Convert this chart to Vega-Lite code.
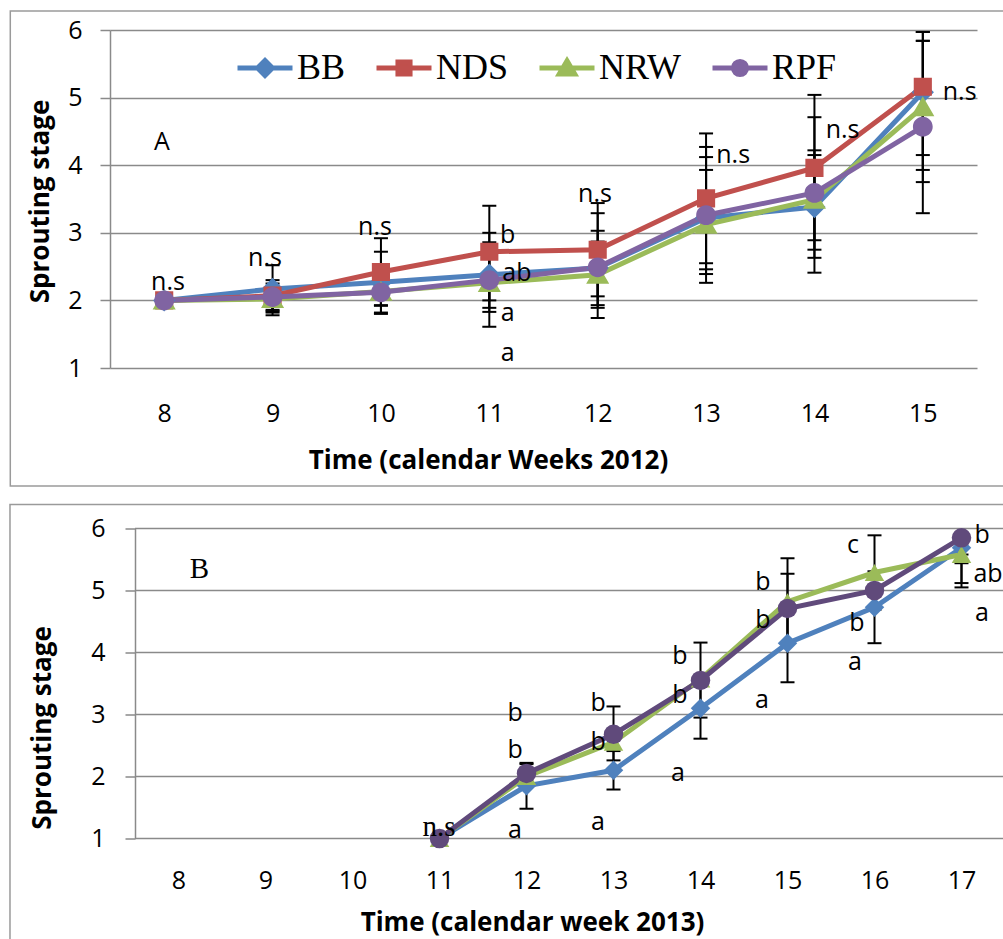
{
  "$schema": "https://vega.github.io/schema/vega-lite/v6.json",
  "padding": {"left": 9, "top": 10, "right": 0, "bottom": 0},
  "autosize": {"type": "pad"},
  "background": "white",
  "config": {
    "view": {"stroke": null},
    "font": "Open Sans",
    "axis": {"labelColor": "black", "titleColor": "black", "labelFont": "Open Sans", "titleFont": "Open Sans"}
  },
  "datasets": {
    "meanA": [
      {"series": "BB", "week": 8, "stage": 2.0}, {"series": "BB", "week": 9, "stage": 2.17}, {"series": "BB", "week": 10, "stage": 2.27}, {"series": "BB", "week": 11, "stage": 2.38},
      {"series": "BB", "week": 12, "stage": 2.48}, {"series": "BB", "week": 13, "stage": 3.22}, {"series": "BB", "week": 14, "stage": 3.38}, {"series": "BB", "week": 15, "stage": 5.08},
      {"series": "NDS", "week": 8, "stage": 2.0}, {"series": "NDS", "week": 9, "stage": 2.07}, {"series": "NDS", "week": 10, "stage": 2.42}, {"series": "NDS", "week": 11, "stage": 2.72},
      {"series": "NDS", "week": 12, "stage": 2.75}, {"series": "NDS", "week": 13, "stage": 3.51}, {"series": "NDS", "week": 14, "stage": 3.96}, {"series": "NDS", "week": 15, "stage": 5.16},
      {"series": "NRW", "week": 8, "stage": 2.0}, {"series": "NRW", "week": 9, "stage": 2.02}, {"series": "NRW", "week": 10, "stage": 2.13}, {"series": "NRW", "week": 11, "stage": 2.26},
      {"series": "NRW", "week": 12, "stage": 2.38}, {"series": "NRW", "week": 13, "stage": 3.12}, {"series": "NRW", "week": 14, "stage": 3.49}, {"series": "NRW", "week": 15, "stage": 4.86},
      {"series": "RPF", "week": 8, "stage": 2.0}, {"series": "RPF", "week": 9, "stage": 2.05}, {"series": "RPF", "week": 10, "stage": 2.12}, {"series": "RPF", "week": 11, "stage": 2.30},
      {"series": "RPF", "week": 12, "stage": 2.49}, {"series": "RPF", "week": 13, "stage": 3.26}, {"series": "RPF", "week": 14, "stage": 3.59}, {"series": "RPF", "week": 15, "stage": 4.57}
    ],
    "errA": [
      {"series": "BB", "week": 9, "lo": 1.82, "hi": 2.52}, {"series": "BB", "week": 10, "lo": 1.82, "hi": 2.72}, {"series": "BB", "week": 11, "lo": 1.89, "hi": 2.86},
      {"series": "BB", "week": 12, "lo": 1.93, "hi": 3.03}, {"series": "BB", "week": 13, "lo": 2.26, "hi": 4.12}, {"series": "BB", "week": 14, "lo": 2.63, "hi": 4.15}, {"series": "BB", "week": 15, "lo": 4.15, "hi": 5.84},
      {"series": "NDS", "week": 9, "lo": 1.86, "hi": 2.30}, {"series": "NDS", "week": 10, "lo": 1.92, "hi": 2.92}, {"series": "NDS", "week": 11, "lo": 2.0, "hi": 3.40},
      {"series": "NDS", "week": 12, "lo": 2.06, "hi": 3.44}, {"series": "NDS", "week": 13, "lo": 2.55, "hi": 4.47}, {"series": "NDS", "week": 14, "lo": 2.89, "hi": 5.04}, {"series": "NDS", "week": 15, "lo": 3.93, "hi": 5.97},
      {"series": "NRW", "week": 9, "lo": 1.84, "hi": 2.20}, {"series": "NRW", "week": 10, "lo": 1.80, "hi": 2.45}, {"series": "NRW", "week": 11, "lo": 1.83, "hi": 2.70},
      {"series": "NRW", "week": 12, "lo": 1.89, "hi": 2.87}, {"series": "NRW", "week": 13, "lo": 2.46, "hi": 3.93}, {"series": "NRW", "week": 14, "lo": 2.75, "hi": 4.22}, {"series": "NRW", "week": 15, "lo": 3.75, "hi": 5.97},
      {"series": "RPF", "week": 9, "lo": 1.78, "hi": 2.25}, {"series": "RPF", "week": 10, "lo": 1.93, "hi": 2.45}, {"series": "RPF", "week": 11, "lo": 1.61, "hi": 3.0},
      {"series": "RPF", "week": 12, "lo": 1.74, "hi": 3.29}, {"series": "RPF", "week": 13, "lo": 2.39, "hi": 4.27}, {"series": "RPF", "week": 14, "lo": 2.41, "hi": 4.71}, {"series": "RPF", "week": 15, "lo": 3.29, "hi": 5.84}
    ],
    "notesA": [
      {"week": 8.035, "stage": 2.27, "note": "n.s"}, {"week": 8.93, "stage": 2.63, "note": "n.s"}, {"week": 9.945, "stage": 3.09, "note": "n.s"},
      {"week": 11.17, "stage": 2.97, "note": "b"}, {"week": 11.255, "stage": 2.41, "note": "ab"}, {"week": 11.17, "stage": 1.81, "note": "a"}, {"week": 11.17, "stage": 1.22, "note": "a"},
      {"week": 11.975, "stage": 3.57, "note": "n.s"}, {"week": 13.25, "stage": 4.15, "note": "n.s"}, {"week": 14.26, "stage": 4.52, "note": "n.s"}, {"week": 15.34, "stage": 5.08, "note": "n.s"},
      {"week": 7.98, "stage": 4.34, "note": "A"}
    ],
    "meanB": [
      {"series": "BB", "week": 11, "stage": 1.0}, {"series": "BB", "week": 12, "stage": 1.85}, {"series": "BB", "week": 13, "stage": 2.10}, {"series": "BB", "week": 14, "stage": 3.10},
      {"series": "BB", "week": 15, "stage": 4.15}, {"series": "BB", "week": 16, "stage": 4.73}, {"series": "BB", "week": 17, "stage": 5.69},
      {"series": "NRW", "week": 11, "stage": 1.0}, {"series": "NRW", "week": 12, "stage": 2.0}, {"series": "NRW", "week": 13, "stage": 2.55}, {"series": "NRW", "week": 14, "stage": 3.57},
      {"series": "NRW", "week": 15, "stage": 4.82}, {"series": "NRW", "week": 16, "stage": 5.29}, {"series": "NRW", "week": 17, "stage": 5.58},
      {"series": "RPF", "week": 11, "stage": 1.0}, {"series": "RPF", "week": 12, "stage": 2.05}, {"series": "RPF", "week": 13, "stage": 2.68}, {"series": "RPF", "week": 14, "stage": 3.55},
      {"series": "RPF", "week": 15, "stage": 4.71}, {"series": "RPF", "week": 16, "stage": 5.0}, {"series": "RPF", "week": 17, "stage": 5.85}
    ],
    "errB": [
      {"series": "BB", "week": 12, "lo": 1.48, "hi": 2.22}, {"series": "BB", "week": 13, "lo": 1.79, "hi": 2.41}, {"series": "BB", "week": 14, "lo": 2.61, "hi": 3.59},
      {"series": "BB", "week": 15, "lo": 3.52, "hi": 4.78}, {"series": "BB", "week": 16, "lo": 4.15, "hi": 5.31}, {"series": "BB", "week": 17, "lo": 5.12, "hi": 5.69},
      {"series": "NRW", "week": 15, "lo": 4.16, "hi": 5.52}, {"series": "NRW", "week": 16, "lo": 4.69, "hi": 5.89}, {"series": "NRW", "week": 17, "lo": 5.05, "hi": 5.58},
      {"series": "RPF", "week": 12, "lo": 2.05, "hi": 2.20}, {"series": "RPF", "week": 13, "lo": 2.26, "hi": 3.13}, {"series": "RPF", "week": 14, "lo": 2.95, "hi": 4.16},
      {"series": "RPF", "week": 15, "lo": 4.15, "hi": 5.27}, {"series": "RPF", "week": 17, "lo": 5.44, "hi": 5.85}
    ],
    "notesB": [
      {"week": 11.868, "stage": 3.02, "note": "b"}, {"week": 11.868, "stage": 2.42, "note": "b"}, {"week": 11.868, "stage": 1.13, "note": "a"},
      {"week": 12.822, "stage": 3.19, "note": "b"}, {"week": 12.822, "stage": 2.55, "note": "b"}, {"week": 12.822, "stage": 1.27, "note": "a"},
      {"week": 13.764, "stage": 3.95, "note": "b"}, {"week": 13.764, "stage": 3.31, "note": "b"}, {"week": 13.741, "stage": 2.05, "note": "a"},
      {"week": 14.718, "stage": 5.13, "note": "b"}, {"week": 14.718, "stage": 4.52, "note": "b"}, {"week": 14.706, "stage": 3.24, "note": "a"},
      {"week": 15.753, "stage": 5.73, "note": "c"}, {"week": 15.799, "stage": 4.47, "note": "b"}, {"week": 15.776, "stage": 3.84, "note": "a"},
      {"week": 17.236, "stage": 5.89, "note": "b"}, {"week": 17.305, "stage": 5.26, "note": "ab"}, {"week": 17.236, "stage": 4.63, "note": "a"}
    ],
    "serifB": [
      {"week": 10.994, "stage": 1.18, "note": "n.s"},
      {"week": 8.24, "stage": 5.35, "note": "B"}
    ],
    "gridB": [
      {"tick": 1}, {"tick": 2}, {"tick": 3}, {"tick": 4}, {"tick": 5}, {"tick": 6}
    ]
  },
  "vconcat": [
    {
      "width": 867,
      "height": 338,
      "layer": [
        {
          "data": {"values": [{}]},
          "mark": {"type": "rect", "filled": false, "stroke": "#9a9a9a", "strokeWidth": 1.5},
          "encoding": {
            "x": {"datum": 6.58, "type": "quantitative"},
            "x2": {"datum": 16.0},
            "y": {"datum": 6.281, "type": "quantitative"},
            "y2": {"datum": -0.746}
          }
        },
        {
          "data": {"name": "errA"},
          "mark": {"type": "rule", "color": "black", "strokeWidth": 2},
          "encoding": {
            "x": {"field": "week", "type": "quantitative"},
            "y": {"field": "lo", "type": "quantitative"},
            "y2": {"field": "hi"}
          }
        },
        {
          "data": {"name": "errA"},
          "mark": {"type": "tick", "orient": "horizontal", "color": "black", "size": 14, "thickness": 2, "opacity": 1},
          "encoding": {
            "x": {"field": "week", "type": "quantitative"},
            "y": {"field": "lo", "type": "quantitative"}
          }
        },
        {
          "data": {"name": "errA"},
          "mark": {"type": "tick", "orient": "horizontal", "color": "black", "size": 14, "thickness": 2, "opacity": 1},
          "encoding": {
            "x": {"field": "week", "type": "quantitative"},
            "y": {"field": "hi", "type": "quantitative"}
          }
        },
        {
          "data": {"name": "meanA"},
          "mark": {"type": "line", "strokeWidth": 5},
          "encoding": {
            "x": {
              "field": "week", "type": "quantitative",
              "scale": {"domain": [7.5, 15.5], "nice": false, "zero": false},
              "axis": {
                "values": [8, 9, 10, 11, 12, 13, 14, 15], "format": "d", "grid": false, "ticks": false, "tickSize": 0, "domain": false,
                "labelFontSize": 25, "labelPadding": 33,
                "title": "Time (calendar Weeks 2012)", "titleFontSize": 26, "titleFontWeight": "bold",
                "titleX": 378, "titleY": 92, "titleAlign": "center", "titleBaseline": "middle"
              }
            },
            "y": {
              "field": "stage", "type": "quantitative",
              "scale": {"domain": [1, 6], "nice": false, "zero": false},
              "axis": {
                "values": [1, 2, 3, 4, 5, 6], "format": "d", "grid": true, "gridColor": "#8a8a8a", "gridWidth": 1.5,
                "domain": true, "domainColor": "#8a8a8a", "domainWidth": 1.5,
                "ticks": true, "tickSize": 10, "tickColor": "#8a8a8a", "tickWidth": 1.5,
                "labelFontSize": 25, "labelPadding": 18,
                "title": "Sprouting stage", "titleFontSize": 26, "titleFontWeight": "bold",
                "titleX": -70, "titleY": 171, "titleAngle": -90, "titleAlign": "center", "titleBaseline": "middle"
              }
            },
            "color": {
              "field": "series", "type": "nominal",
              "scale": {"domain": ["BB", "NDS", "NRW", "RPF"], "range": ["#4F81BD", "#C0504D", "#9BBB59", "#8064A2"]}
            }
          }
        },
        {
          "data": {"name": "meanA"},
          "mark": {"type": "point", "filled": true, "opacity": 1, "size": 6800, "strokeWidth": 0},
          "encoding": {
            "x": {"field": "week", "type": "quantitative"},
            "y": {"field": "stage", "type": "quantitative"},
            "shape": {
              "field": "series", "type": "nominal",
              "scale": {
                "domain": ["BB", "NDS", "NRW", "RPF"],
                "range": [
                  "M-1,0H1M0,-0.27L0.27,0L0,0.27L-0.27,0Z",
                  "M-1,0H1M-0.22,-0.22H0.22V0.22H-0.22Z",
                  "M-1,0H1M0,-0.26L0.28,0.22L-0.28,0.22Z",
                  "M-1,0H1M-0.24,0A0.24,0.24 0 1,1 0.24,0A0.24,0.24 0 1,1 -0.24,0Z"
                ]
              }
            },
            "stroke": {
              "field": "series", "type": "nominal",
              "scale": {"domain": ["BB", "NDS", "NRW", "RPF"], "range": ["#4F81BD", "#C0504D", "#9BBB59", "#8064A2"]}
            },
            "color": {
              "field": "series", "type": "nominal",
              "scale": {"domain": ["BB", "NDS", "NRW", "RPF"], "range": ["#4F81BD", "#C0504D", "#9BBB59", "#8064A2"]},
              "legend": {
                "orient": "none", "legendX": 125, "legendY": 8, "direction": "horizontal", "columns": 4,
                "title": null, "padding": 0, "labelFont": "Liberation Serif", "labelFontSize": 36, "labelColor": "black",
                "labelOffset": 2, "labelLimit": 300, "columnPadding": 20, "symbolSize": 3025, "symbolStrokeWidth": 5, "symbolOpacity": 1
              }
            }
          }
        },
        {
          "data": {"name": "notesA"},
          "mark": {"type": "text", "font": "Open Sans", "fontSize": 25, "align": "center", "baseline": "middle", "color": "black"},
          "encoding": {
            "x": {"field": "week", "type": "quantitative"},
            "y": {"field": "stage", "type": "quantitative"},
            "text": {"field": "note"}
          }
        }
      ]
    },
    {
      "width": 895,
      "height": 310,
      "layer": [
        {
          "data": {"values": [{}]},
          "mark": {"type": "rect", "filled": false, "stroke": "#9a9a9a", "strokeWidth": 1.5},
          "encoding": {
            "x": {"datum": 6.063, "type": "quantitative"},
            "x2": {"datum": 18.5},
            "y": {"datum": 6.387, "type": "quantitative"},
            "y2": {"datum": -0.9}
          }
        },
        {
          "data": {"name": "gridB"},
          "mark": {"type": "rule", "color": "#8a8a8a", "strokeWidth": 1.5},
          "encoding": {
            "x": {"datum": 7.5, "type": "quantitative"},
            "x2": {"datum": 17.5},
            "y": {"field": "tick", "type": "quantitative"}
          }
        },
        {
          "data": {"name": "errB"},
          "mark": {"type": "rule", "color": "black", "strokeWidth": 2},
          "encoding": {
            "x": {"field": "week", "type": "quantitative"},
            "y": {"field": "lo", "type": "quantitative"},
            "y2": {"field": "hi"}
          }
        },
        {
          "data": {"name": "errB"},
          "mark": {"type": "tick", "orient": "horizontal", "color": "black", "size": 14, "thickness": 2, "opacity": 1},
          "encoding": {
            "x": {"field": "week", "type": "quantitative"},
            "y": {"field": "lo", "type": "quantitative"}
          }
        },
        {
          "data": {"name": "errB"},
          "mark": {"type": "tick", "orient": "horizontal", "color": "black", "size": 14, "thickness": 2, "opacity": 1},
          "encoding": {
            "x": {"field": "week", "type": "quantitative"},
            "y": {"field": "hi", "type": "quantitative"}
          }
        },
        {
          "data": {"name": "meanB"},
          "mark": {"type": "line", "strokeWidth": 5},
          "encoding": {
            "x": {
              "field": "week", "type": "quantitative",
              "scale": {"domain": [7.2126, 17.5], "nice": false, "zero": false},
              "axis": {
                "values": [8, 9, 10, 11, 12, 13, 14, 15, 16, 17], "format": "d", "grid": false, "ticks": false, "tickSize": 0, "domain": false,
                "labelFontSize": 25, "labelPadding": 30,
                "title": "Time (calendar week 2013)", "titleFontSize": 26, "titleFontWeight": "bold",
                "titleX": 422, "titleY": 84, "titleAlign": "center", "titleBaseline": "middle"
              }
            },
            "y": {
              "field": "stage", "type": "quantitative",
              "scale": {"domain": [1, 6], "nice": false, "zero": false},
              "axis": {
                "values": [1, 2, 3, 4, 5, 6], "format": "d", "grid": false, "offset": -25,
                "domain": true, "domainColor": "#8a8a8a", "domainWidth": 1.5,
                "ticks": true, "tickSize": 10, "tickColor": "#8a8a8a", "tickWidth": 1.5,
                "labelFontSize": 25, "labelPadding": 20,
                "title": "Sprouting stage", "titleFontSize": 26, "titleFontWeight": "bold",
                "titleX": -93, "titleY": 199, "titleAngle": -90, "titleAlign": "center", "titleBaseline": "middle"
              }
            },
            "stroke": {
              "field": "series", "type": "nominal",
              "scale": {"domain": ["BB", "NRW", "RPF"], "range": ["#4F81BD", "#9BBB59", "#604A7B"]},
              "legend": null
            }
          }
        },
        {
          "data": {"name": "meanB"},
          "mark": {"type": "point", "filled": true, "opacity": 1, "size": 380, "strokeWidth": 0},
          "encoding": {
            "x": {"field": "week", "type": "quantitative"},
            "y": {"field": "stage", "type": "quantitative"},
            "shape": {
              "field": "series", "type": "nominal",
              "scale": {"domain": ["BB", "NRW", "RPF"], "range": ["diamond", "triangle-up", "circle"]},
              "legend": null
            },
            "color": {
              "field": "series", "type": "nominal",
              "scale": {"domain": ["BB", "NRW", "RPF"], "range": ["#4F81BD", "#9BBB59", "#604A7B"]},
              "legend": null
            }
          }
        },
        {
          "data": {"name": "notesB"},
          "mark": {"type": "text", "font": "Open Sans", "fontSize": 25, "align": "center", "baseline": "middle", "color": "black"},
          "encoding": {
            "x": {"field": "week", "type": "quantitative"},
            "y": {"field": "stage", "type": "quantitative"},
            "text": {"field": "note"}
          }
        },
        {
          "data": {"name": "serifB"},
          "mark": {"type": "text", "font": "Liberation Serif", "fontSize": 29, "align": "center", "baseline": "middle", "color": "black"},
          "encoding": {
            "x": {"field": "week", "type": "quantitative"},
            "y": {"field": "stage", "type": "quantitative"},
            "text": {"field": "note"}
          }
        }
      ]
    }
  ],
  "spacing": 16.5,
  "bounds": "full",
  "resolve": {
    "scale": {"x": "independent", "y": "independent", "color": "independent", "stroke": "independent", "shape": "independent"},
    "legend": {"color": "independent", "shape": "independent", "stroke": "independent"}
  }
}
